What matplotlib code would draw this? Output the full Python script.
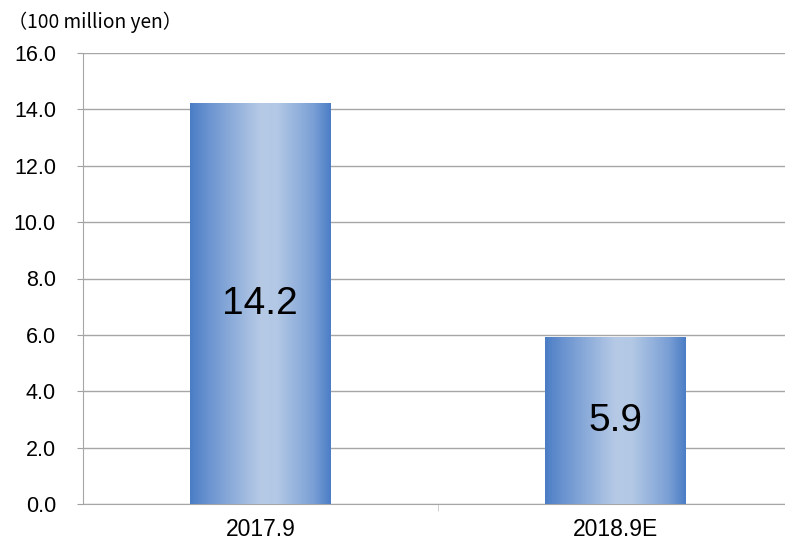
import matplotlib
matplotlib.use("Agg")
import matplotlib.pyplot as plt
import numpy as np
from matplotlib.colors import LinearSegmentedColormap

categories = ["2017.9", "2018.9E"]
values = [14.2, 5.9]
value_labels = ["14.2", "5.9"]
yticks = [0, 2, 4, 6, 8, 10, 12, 14, 16]
unit_label = "（100 million yen）"

plt.rcParams['font.family'] = ['Liberation Sans', 'DejaVu Sans']

W, H = 785, 548
fig = plt.figure(figsize=(W / 100, H / 100), dpi=100)
left, right, bottom, top = 83, 785, 504, 53
ax = fig.add_axes([left / W, 1 - bottom / H, (right - left) / W, (bottom - top) / H])

cmap = LinearSegmentedColormap.from_list(
    "barg", [(0.0, "#4b7dc5"), (0.12, "#6892cf"), (0.5, "#b6cae6"), (0.62, "#b2c8e5"),
             (0.88, "#7a9fd5"), (1.0, "#4b7dc5")])
grad = np.linspace(0, 1, 256).reshape(1, -1)

bw = 0.395
x = np.arange(len(categories))
bars = ax.bar(x, values, width=bw, color="none", zorder=3)
for b in bars:
    x0, w, h = b.get_x(), b.get_width(), b.get_height()
    ax.imshow(grad, cmap=cmap, aspect="auto", extent=[x0, x0 + w, 0, h], zorder=3, interpolation="bicubic")

for xi, v, lab in zip(x, values, value_labels):
    ax.text(xi, v / 2, lab, ha="center", va="center", fontsize=28, color="black", zorder=4)

ax.set_xlim(-0.5, 1.479)
ax.set_ylim(0, 16)
ax.set_yticks(yticks)
ax.set_yticklabels([f"{t:.1f}" for t in yticks], fontsize=15.5)
ax.set_xticks(x)
ax.set_xticklabels(categories, fontsize=16.5)
ax.set_xticks([0.5], minor=True)
ax.tick_params(axis="x", which="major", length=0, pad=10)
ax.tick_params(axis="x", which="minor", length=5, color="#c8c8c8", direction="out")
ax.tick_params(axis="y", length=4.5, color="#a0a0a0", pad=15)
ax.grid(axis="y", color="#a6a6a6", linewidth=1, zorder=0)
ax.set_axisbelow(True)
for s in ["top", "right"]:
    ax.spines[s].set_visible(False)
ax.spines["left"].set_color("#a6a6a6")
ax.spines["bottom"].set_color("#a6a6a6")

fig.text(8 / W, 1 - 22 / H, unit_label, fontsize=13.8, va="center", ha="left",
         family=["Noto Sans CJK JP", "DejaVu Sans"])

fig.savefig("out.png", dpi=100)
